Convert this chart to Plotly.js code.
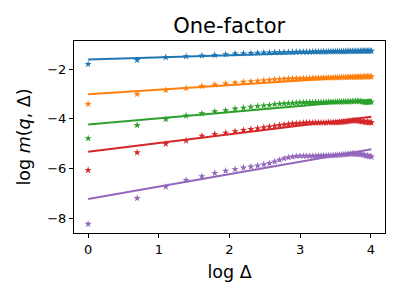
<!DOCTYPE html>
<html>
<head>
<meta charset="utf-8">
<script src="https://cdn.plot.ly/plotly-3.0.1.min.js"></script>
<style>html,body{margin:0;padding:0;background:#fff;}#chart{width:400px;height:300px;}</style>
</head>
<body>
<div id="chart"></div>
<script>
// Lag values Δ
const delta = [1,2,3,4,5,6,7,8,9,10,11,12,13,14,15,16,17,18,19,20,21,22,23,24,25,26,27,28,29,30,
  31,32,33,34,35,36,37,38,39,40,41,42,43,44,45,46,47,48,49,50,51,52,53,54,55];

// log m(q, Δ) for each q
const seriesA = [-1.80,-1.64,-1.53,-1.49,-1.46,-1.44,-1.41,-1.38,-1.37,-1.36,
  -1.35,-1.34,-1.34,-1.33,-1.33,-1.32,-1.32,-1.32,-1.31,-1.31,
  -1.31,-1.31,-1.31,-1.30,-1.30,-1.30,-1.30,-1.30,-1.30,-1.30,
  -1.29,-1.29,-1.29,-1.29,-1.29,-1.29,-1.29,-1.29,-1.28,-1.28,
  -1.28,-1.28,-1.28,-1.28,-1.28,-1.28,-1.28,-1.27,-1.27,-1.27,
  -1.27,-1.27,-1.27,-1.27,-1.27];
const seriesB = [-3.41,-3.01,-2.85,-2.77,-2.69,-2.63,-2.59,-2.55,-2.52,-2.50,
  -2.48,-2.46,-2.44,-2.42,-2.41,-2.40,-2.39,-2.39,-2.38,-2.38,
  -2.37,-2.37,-2.37,-2.36,-2.36,-2.36,-2.36,-2.35,-2.35,-2.35,
  -2.35,-2.34,-2.34,-2.34,-2.34,-2.33,-2.33,-2.33,-2.33,-2.32,
  -2.32,-2.32,-2.32,-2.32,-2.31,-2.31,-2.31,-2.31,-2.31,-2.30,
  -2.30,-2.30,-2.30,-2.30,-2.30];
const seriesC = [-4.79,-4.26,-4.02,-3.88,-3.79,-3.71,-3.67,-3.60,-3.56,-3.52,
  -3.49,-3.47,-3.45,-3.42,-3.40,-3.39,-3.38,-3.37,-3.36,-3.35,
  -3.35,-3.34,-3.34,-3.34,-3.33,-3.33,-3.33,-3.33,-3.33,-3.32,
  -3.32,-3.32,-3.32,-3.32,-3.32,-3.32,-3.31,-3.31,-3.31,-3.31,
  -3.30,-3.30,-3.30,-3.29,-3.29,-3.29,-3.30,-3.31,-3.32,-3.33,
  -3.34,-3.33,-3.32,-3.33,-3.32];
const seriesD = [-6.07,-5.36,-5.01,-4.88,-4.69,-4.62,-4.57,-4.51,-4.46,-4.42,
  -4.39,-4.35,-4.32,-4.29,-4.26,-4.24,-4.22,-4.20,-4.19,-4.18,
  -4.17,-4.16,-4.16,-4.16,-4.16,-4.16,-4.16,-4.16,-4.16,-4.15,
  -4.15,-4.15,-4.15,-4.15,-4.14,-4.14,-4.13,-4.12,-4.11,-4.10,
  -4.09,-4.08,-4.07,-4.07,-4.08,-4.09,-4.10,-4.12,-4.10,-4.13,
  -4.15,-4.12,-4.16,-4.14,-4.16];
const seriesE = [-8.24,-7.20,-6.74,-6.47,-6.32,-6.19,-6.10,-6.03,-5.97,-5.93,
  -5.89,-5.84,-5.79,-5.73,-5.66,-5.60,-5.56,-5.53,-5.51,-5.50,
  -5.50,-5.50,-5.50,-5.50,-5.50,-5.49,-5.49,-5.49,-5.48,-5.48,
  -5.48,-5.47,-5.47,-5.46,-5.46,-5.45,-5.44,-5.43,-5.43,-5.42,
  -5.41,-5.40,-5.41,-5.42,-5.43,-5.42,-5.44,-5.43,-5.45,-5.47,
  -5.50,-5.48,-5.52,-5.50,-5.54];

// Fitted line values at the first and last Δ
const fitStart = [-1.61, -3.01, -4.23, -5.33, -7.23];
const fitEnd   = [-1.27, -2.28, -3.24, -3.92, -5.23];

const colors = ['#1f77b4', '#ff7f0e', '#2ca02c', '#d62728', '#9467bd'];
const allSeries = [seriesA, seriesB, seriesC, seriesD, seriesE];

const logDelta = delta.map(d => Math.log(d));
const xFit = [logDelta[0], logDelta[logDelta.length - 1]];

const traces = [];
allSeries.forEach((s, i) => {
  traces.push({
    x: logDelta, y: s, type: 'scatter', mode: 'markers',
    marker: {symbol: 'star', size: 5.5, color: colors[i], line: {width: 0}},
    showlegend: false, hoverinfo: 'skip'
  });
  traces.push({
    x: xFit, y: [fitStart[i], fitEnd[i]], type: 'scatter', mode: 'lines',
    line: {color: colors[i], width: 2},
    showlegend: false, hoverinfo: 'skip'
  });
});

const axisCommon = {
  showgrid: false, zeroline: false, showline: true, mirror: true,
  linecolor: '#000', linewidth: 1, ticks: 'outside', ticklen: 4,
  tickcolor: '#000', tickwidth: 1,
  tickfont: {family: 'DejaVu Sans', size: 13, color: '#000'}
};

const layout = {
  width: 400, height: 300,
  margin: {l: 74, r: 15, t: 41, b: 67},
  paper_bgcolor: '#fff', plot_bgcolor: '#fff',
  font: {family: 'DejaVu Sans', color: '#000'},
  title: {text: 'One-factor', font: {family: 'DejaVu Sans', size: 21, color: '#000'},
          x: 0.573, xanchor: 'center', y: 0.915, yanchor: 'middle'},
  xaxis: Object.assign({}, axisCommon, {
    range: [-0.2, 4.2], tickvals: [0, 1, 2, 3, 4], ticktext: ['0', '1', '2', '3', '4'],
    title: {text: 'log Δ', font: {family: 'DejaVu Sans', size: 17.5, color: '#000'}, standoff: 10}
  }),
  yaxis: Object.assign({}, axisCommon, {
    range: [-8.6, -0.87], tickvals: [-8, -6, -4, -2], ticktext: ['−8', '−6', '−4', '−2'],
    title: {text: 'log <i>m</i>(<i>q</i>, Δ)', font: {family: 'DejaVu Sans', size: 17.5, color: '#000'}, standoff: 12}
  })
};

Plotly.newPlot('chart', traces, layout, {staticPlot: true, displayModeBar: false});
</script>
</body>
</html>
